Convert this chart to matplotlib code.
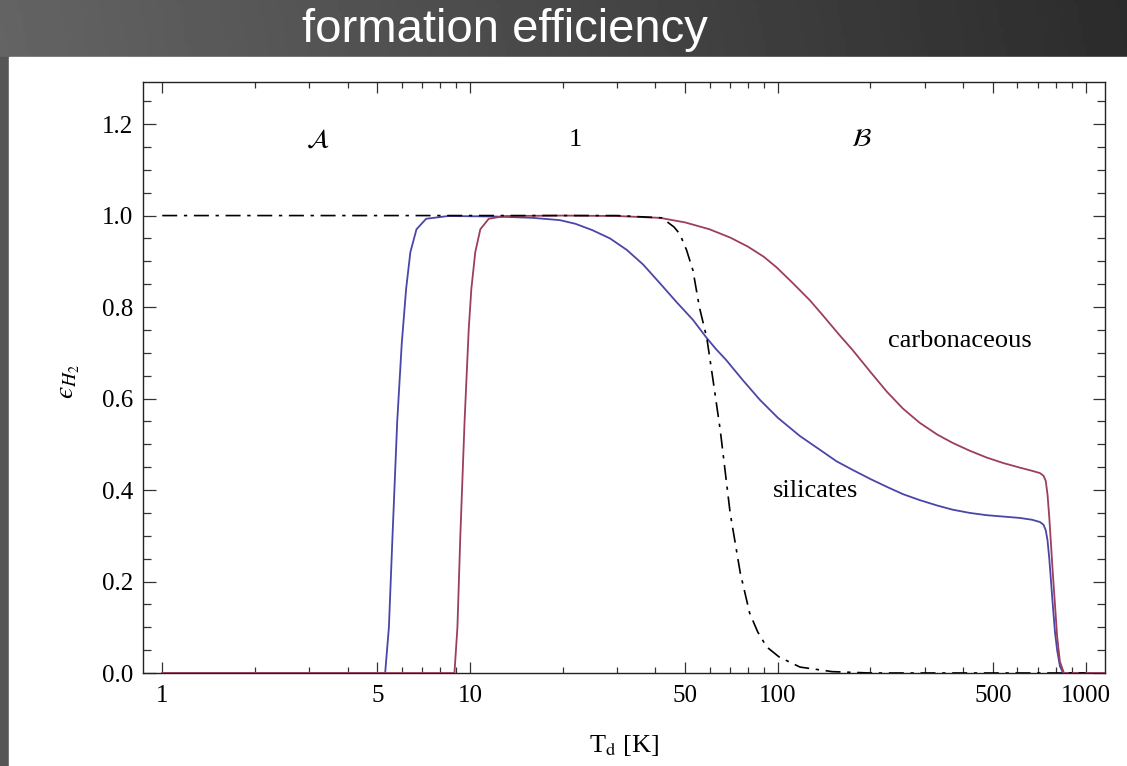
import numpy as np
import matplotlib
matplotlib.use("Agg")
import matplotlib.pyplot as plt
from matplotlib.ticker import FixedLocator, FixedFormatter, MultipleLocator, NullFormatter

# ---------------- data ----------------
sil_T = [1, 5.3, 5.45, 5.6, 5.8, 6.0, 6.2, 6.4, 6.7, 7.2, 8.5, 12, 16, 19.6, 22, 25,
         28.5, 32.3, 36.5, 41.4, 47, 53, 58.8, 63, 68, 77, 87.5, 100, 118, 137, 155,
         175, 200, 226, 255, 289, 330, 370, 420, 477, 540, 611, 670, 711, 730, 742,
         752, 762, 772, 782, 795, 808, 825, 845, 1150]
sil_eff = [0, 0, 0.1, 0.3, 0.55, 0.72, 0.84, 0.92, 0.97, 0.993, 0.999, 0.998, 0.995,
           0.99, 0.982, 0.968, 0.95, 0.925, 0.893, 0.852, 0.81, 0.772, 0.732, 0.708,
           0.684, 0.640, 0.597, 0.558, 0.518, 0.488, 0.463, 0.444, 0.424, 0.407,
           0.391, 0.378, 0.366, 0.357, 0.350, 0.345, 0.342, 0.339, 0.335, 0.330,
           0.324, 0.312, 0.29, 0.25, 0.20, 0.15, 0.09, 0.05, 0.015, 0.0, 0.0]

carb_T = [1, 8.9, 9.1, 9.3, 9.6, 9.9, 10.1, 10.4, 10.8, 11.5, 13, 20, 30, 41.4, 50,
          60, 70, 80, 90, 99, 112, 127, 140, 158, 175, 200, 226, 255, 289, 330,
          370, 420, 477, 540, 611, 670, 711, 730, 742, 752, 762, 772, 782, 795, 808,
          825, 850, 1150]
carb_eff = [0, 0, 0.1, 0.3, 0.55, 0.75, 0.84, 0.92, 0.97, 0.993, 0.999, 1.0, 0.999,
            0.995, 0.985, 0.970, 0.952, 0.932, 0.91, 0.887, 0.852, 0.815, 0.782,
            0.740, 0.706, 0.658, 0.615, 0.578, 0.547, 0.521, 0.503, 0.486, 0.471,
            0.459, 0.449, 0.442, 0.437, 0.431, 0.42, 0.39, 0.34, 0.28, 0.22, 0.15,
            0.08, 0.025, 0.0, 0.0]

ref_T = [1, 30, 42, 46, 48, 50.5, 53, 55.6, 58.8, 61.6, 65, 70, 75.5, 81, 86, 92,
         101, 118, 150, 200, 1000]
ref_eff = [1.0, 1.0, 0.995, 0.975, 0.96, 0.925, 0.88, 0.80, 0.732, 0.64, 0.531,
           0.35, 0.219, 0.131, 0.09, 0.057, 0.035, 0.013, 0.003, 0.0, 0.0]

x_major = [1, 5, 10, 50, 100, 500, 1000]
x_major_labels = ["1", "5", "10", "50", "100", "500", "1000"]
x_minor = [2, 3, 4, 6, 7, 8, 9, 20, 30, 40, 60, 70, 80, 90, 200, 300, 400, 600, 700, 800, 900]
y_major = [0.0, 0.2, 0.4, 0.6, 0.8, 1.0, 1.2]
y_major_labels = ["0.0", "0.2", "0.4", "0.6", "0.8", "1.0", "1.2"]

title = "formation efficiency"
region_labels = [r"$\mathcal{A}$", "1", r"$\mathcal{B}$"]
region_T = [3.2, 21.9, 187]
region_y = 1.165

# ---------------- figure ----------------
W, H = 1127, 766
fig = plt.figure(figsize=(W / 100, H / 100), dpi=100)
plt.rcParams["mathtext.fontset"] = "stix"

# background gradient
bg = fig.add_axes([0, 0, 1, 1])
bg.set_axis_off()
xx = np.linspace(0, 1, 300)
yy = np.linspace(0, 1, 200)
X, Y = np.meshgrid(xx, yy)
G = 0.39 - 0.22 * X + 0.03 * Y
bg.imshow(G, cmap="gray", vmin=0, vmax=1, extent=[0, 1, 0, 1], aspect="auto",
          origin="upper")
bg.add_patch(plt.Rectangle((0, 0), 9 / W, 1 - 57 / H, color="#555555",
                           transform=bg.transAxes))
bg.add_patch(plt.Rectangle((9 / W, 0), 1 - 9 / W, 1 - 57 / H, color="white",
                           transform=bg.transAxes))
bg.set_xlim(0, 1)
bg.set_ylim(0, 1)
fig.text(505 / W, 1 - 30 / H, title, color="white", fontsize=34,
         family="Liberation Sans", ha="center", va="center")

# main axes
L, R, T, B = 143, 1105, 82, 673
ax = fig.add_axes([L / W, 1 - B / H, (R - L) / W, (B - T) / H])
ax.set_facecolor("none")

ax.plot(sil_T, sil_eff, color="#4a45a8", lw=1.3, zorder=3)
ax.plot(carb_T, carb_eff, color="#9c3e5c", lw=1.3, zorder=3)
ax.plot(ref_T, ref_eff, color="black", lw=1.2, linestyle=(0, (9, 4, 2, 4)), zorder=4)

ax.set_xscale("log")
ax.set_xlim(0.866, 1156)
ax.set_ylim(0, 1.292)

serif = "Liberation Serif"
ax.xaxis.set_major_locator(FixedLocator(x_major))
ax.xaxis.set_major_formatter(FixedFormatter(x_major_labels))
ax.xaxis.set_minor_locator(FixedLocator(x_minor))
ax.xaxis.set_minor_formatter(NullFormatter())
ax.yaxis.set_major_locator(FixedLocator(y_major))
ax.yaxis.set_major_formatter(FixedFormatter(y_major_labels))
ax.yaxis.set_minor_locator(MultipleLocator(0.05))

ax.tick_params(axis="both", which="both", direction="in", top=True, right=True,
               color="#333333", width=0.9)
ax.tick_params(axis="x", which="major", length=8, pad=9, labelsize=18)
ax.tick_params(axis="x", which="minor", length=4)
ax.tick_params(axis="y", which="major", length=9, pad=7, labelsize=18)
ax.tick_params(axis="y", which="minor", length=6)
for lab in ax.get_xticklabels() + ax.get_yticklabels():
    lab.set_family(serif)
for s in ax.spines.values():
    s.set_linewidth(1.0)
    s.set_color("#222222")

ax.set_xlabel(r"T$_\mathrm{d}$ [K]", family=serif, fontsize=19, labelpad=18)
fig.text(68 / W, 1 - 382 / H, "$\u03f5_{H_2}$", rotation=90, fontsize=20,
         ha="center", va="center")

for lab, t in zip(region_labels, region_T):
    ax.text(t, region_y, lab, family=serif, fontsize=19, ha="center", va="center")

ax.text(390, 0.726, "carbonaceous", family=serif, fontsize=19, ha="center", va="center")
ax.text(133, 0.398, "silicates", family=serif, fontsize=19, ha="center", va="center")

fig.savefig("out.png", dpi=100)
